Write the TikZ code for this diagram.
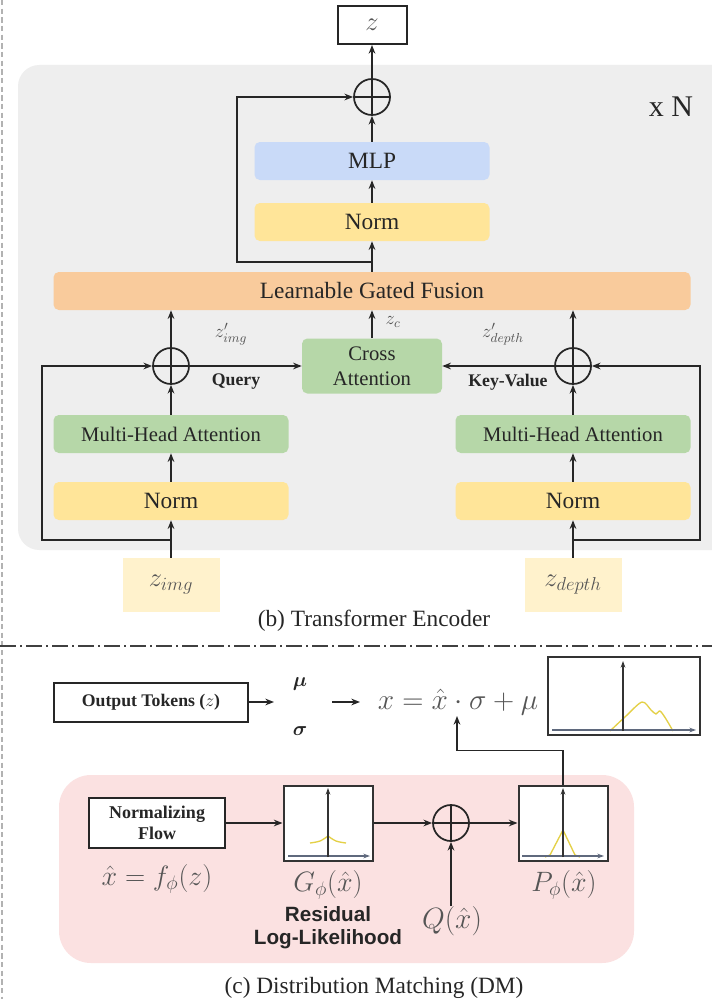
\RequirePackage{fix-cm}
\documentclass[tikz,border=0pt]{standalone}
\usepackage{amsmath}
\usepackage{fontspec}
\setmainfont{Liberation Serif}
\newfontfamily\sansfam{Liberation Sans}
\usetikzlibrary{arrows.meta,calc}

\definecolor{bggrey}{RGB}{238,238,238}
\definecolor{mlpblue}{RGB}{201,218,248}
\definecolor{normyel}{RGB}{255,229,153}
\definecolor{fuseorange}{RGB}{249,203,156}
\definecolor{attgreen}{RGB}{182,215,168}
\definecolor{tokyel}{RGB}{255,242,204}
\definecolor{pinkbg}{RGB}{251,225,225}
\definecolor{curveyel}{RGB}{228,208,70}
\definecolor{axisblue}{RGB}{95,105,125}
\definecolor{inkgrey}{RGB}{85,85,85}

\tikzset{
  fs/.style={font=\fontsize{#1}{#1}\selectfont},
  fsb/.style={font=\fontsize{#1}{#1}\selectfont\bfseries},
  fss/.style={font=\fontsize{#1}{#1}\selectfont\sansfam\bfseries},
  arr/.style={-{Stealth[length=6.5pt,width=5pt]}, line width=1.1pt, black!85},
  blk/.style={rounded corners=4pt, inner sep=0pt, text=black!85,
    minimum width=176.25pt, minimum height=28.5pt, fs=17.5},
  wbox/.style={draw=black!85, line width=1.5pt, fill=white, inner sep=0pt},
  oplus/.style={circle, draw=black!85, line width=1.3pt, minimum size=27pt,
    inner sep=0pt, fill=none,
    path picture={\draw[line width=1.2pt, black!85]
      (path picture bounding box.north) -- (path picture bounding box.south)
      (path picture bounding box.west) -- (path picture bounding box.east);}},
  plotbox/.style={draw=black!80, line width=1.5pt, fill=white, inner sep=0pt,
    minimum width=66.75pt, minimum height=56.25pt},
  vaxis/.style={-{Stealth[length=5pt,width=3.5pt]}, line width=0.8pt, black!80},
  haxis/.style={-{Stealth[length=5pt,width=3.5pt]}, line width=0.9pt, axisblue},
  curve/.style={line width=1pt, curveyel},
  lbl/.style={inner sep=0pt, text=inkgrey},
}

\begin{document}
\begin{tikzpicture}[x=0.75pt, y=-0.75pt]
\useasboundingbox (0,0) rectangle (712,999);
\clip (0,0) rectangle (712,999);
\fill[white] (0,0) rectangle (712,999);

% page edge and section separator
\draw[gray!60, line width=0.9pt, dash pattern=on 4pt off 2.5pt] (2,0) -- (2,999);
\draw[black!75, line width=1.2pt, dash pattern=on 12pt off 3pt on 1.5pt off 3pt] (0,646) -- (712,646);

% ---------------- (b) Transformer Encoder ----------------
\fill[bggrey, rounded corners=16pt] (18,65) rectangle (740,550);

\node[wbox, minimum width=51.75pt, minimum height=28.5pt, text=inkgrey, fs=20] (zout) at (372,25) {$z$};
\node[oplus] (pT) at (372,97) {};
\node[inner sep=0pt, fs=22.5, text=black!85] (xn) at (671,107) {x N};

\node[blk, fill=mlpblue] (mlp) at (372,161) {MLP};
\node[blk, fill=normyel] (normT) at (372,222) {Norm};
\node[blk, fill=fuseorange, minimum width=477.75pt] (lgf) at (372,291) {Learnable Gated Fusion};

\node[blk, fill=attgreen, minimum width=105pt, minimum height=41.25pt, align=center, fs=15.5] (cross) at (372,366) {Cross\\[3pt]Attention};

\node[oplus] (pL) at (171,366) {};
\node[oplus] (pR) at (573,366) {};

\node[blk, fill=attgreen, fs=15.5] (mhaL) at (171,434) {Multi-Head Attention};
\node[blk, fill=attgreen, fs=15.5] (mhaR) at (573,434) {Multi-Head Attention};
\node[blk, fill=normyel] (normL) at (171,501) {Norm};
\node[blk, fill=normyel] (normR) at (573,501) {Norm};

\node[fill=tokyel, minimum width=72.75pt, minimum height=40.5pt, inner sep=0pt, text=inkgrey, fs=20] (zimg) at (171,585) {$z_{img}$};
\node[fill=tokyel, minimum width=72.75pt, minimum height=40.5pt, inner sep=0pt, text=inkgrey, fs=20] (zdep) at (573,585) {$z_{depth}$};

% labels on the connectors
\node[lbl, fs=14] (lzi) at (231,334) {$z'_{img}$};
\node[lbl, fs=14] (lzc) at (393,322) {$z_c$};
\node[lbl, fs=14] (lzd) at (503,334) {$z'_{depth}$};
\node[inner sep=0pt, fsb=13.3, text=black!85] (lq) at (236,382) {Query};
\node[inner sep=0pt, fsb=13.3, text=black!85] (lkv) at (508,382) {Key-Value};

% branch points of the residual paths
\coordinate (brT) at (372,262);
\coordinate (brL) at (171,540);
\coordinate (brR) at (573,540);

% main flow
\draw[arr] (pT) -- (zout);
\draw[arr] (mlp) -- (pT);
\draw[arr] (normT) -- (mlp);
\draw[arr] (lgf) -- (normT);
\draw[arr] (cross) -- (lgf);
\draw[arr] (pL) -- (pL |- lgf.south);
\draw[arr] (pR) -- (pR |- lgf.south);
\draw[arr] (pL) -- (cross);
\draw[arr] (pR) -- (cross);
\draw[arr] (mhaL) -- (pL);
\draw[arr] (mhaR) -- (pR);
\draw[arr] (normL) -- (mhaL);
\draw[arr] (normR) -- (mhaR);
\draw[arr] (zimg) -- (normL);
\draw[arr] (zdep) -- (normR);

% residual connections
\draw[arr] (brT) -- ++(-135,0) |- (pT);
\draw[arr] (brL) -- ++(-129,0) |- (pL);
\draw[arr] (brR) -- ++(127,0) |- (pR);

\node[inner sep=0pt, fs=17.5, text=black!85] (capb) at (374,621) {(b) Transformer Encoder};

% ---------------- (c) Distribution Matching ----------------
\node[wbox, minimum width=145.5pt, minimum height=29.25pt, fsb=13.3, text=black!85] (tok) at (151,702) {Output Tokens ($z$)};
\node[inner sep=0pt, fs=15, text=black!85] (mu) at (300,684) {$\boldsymbol{\mu}$};
\node[inner sep=0pt, fs=15, text=black!85] (sig) at (300,731) {$\boldsymbol{\sigma}$};
\coordinate (a1) at (274,702);
\coordinate (a2) at (332,702);
\coordinate (a3) at (360,702);
\node[inner sep=0pt, fs=22, text=inkgrey] (form) at (458,702) {$x=\hat{x}\cdot\sigma+\mu$};
\coordinate (fdot) at (457,716);
\draw[arr] (tok) -- (a1);
\draw[arr] (a2) -- (a3);

% output distribution
\node[plotbox, minimum width=114pt, minimum height=58.5pt] (tplot) at (624,696) {};
\draw[curve] plot[smooth, tension=0.5] coordinates {(610,731) (626,716) (642,702) (651,710) (656,714) (660,711) (666,719) (673,731)};
\draw[haxis] (552,730) -- (696,730);
\draw[vaxis] (623,731) -- (623,661);

\fill[pinkbg, rounded corners=24pt] (59,775) rectangle (634,963);

\node[wbox, minimum width=102pt, minimum height=37.5pt, fsb=13.5, align=center, text=black!85] (nf) at (157,823) {Normalizing\\[2pt]Flow};
\node[lbl, fs=21] (fx) at (157,879) {$\hat{x}=f_{\phi}(z)$};

\node[plotbox] (gplot) at (328,823) {};
\draw[curve] plot[smooth, tension=0.6] coordinates {(310,843) (320,841) (328,836)};
\draw[curve] plot[smooth, tension=0.6] coordinates {(328,836) (336,841) (346,843)};
\draw[haxis] (288,856) -- (370,856);
\draw[vaxis] (328,857) -- (328,788);

\node[oplus] (pB) at (451,823) {};

\node[plotbox] (pplot) at (563,823) {};
\draw[curve] (545,857) -- (550,855) -- (563,830) -- (575,855) -- (580,857);
\draw[haxis] (522,856) -- (604,856);
\draw[vaxis] (563,857) -- (563,788);

\node[lbl, fs=21] (gl) at (328,885) {$G_{\phi}(\hat{x})$};
\node[lbl, fs=21] (pl) at (564,885) {$P_{\phi}(\hat{x})$};
\node[lbl, fs=22, anchor=north] (ql) at (452,906) {$Q(\hat{x})$};
\node[inner sep=0pt, fss=15.5, align=center, text=black!85] (rll) at (328,928) {Residual\\[1.5pt]Log-Likelihood};

\draw[arr] (nf) -- (gplot);
\draw[arr] (gplot) -- (pB);
\draw[arr] (pB) -- (pplot);
\draw[arr] (ql.north -| pB) -- (pB);
\draw[arr] (pplot.north) -- ++(0,-34) -| (fdot);

\node[inner sep=0pt, fs=17.5, text=black!85] (capc) at (374,988) {(c) Distribution Matching (DM)};
\end{tikzpicture}
\end{document}
